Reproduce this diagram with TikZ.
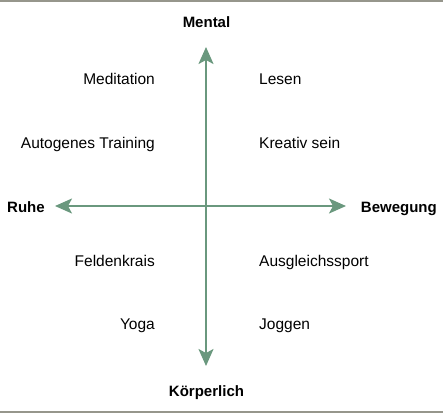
\documentclass[tikz,border=0pt]{standalone}
\usepackage{fontspec}
\setmainfont{Liberation Sans}
\usetikzlibrary{arrows.meta}
\definecolor{axisgreen}{RGB}{106,152,126}
\definecolor{rulegray}{RGB}{150,150,140}
\begin{document}
\begin{tikzpicture}[x=1pt,y=-1pt,
  axis/.style={draw=axisgreen,line width=2pt,
    arrows={Stealth[length=17pt,width=15pt,inset=4pt]-Stealth[length=17pt,width=15pt,inset=4pt]}},
  item/.style={inner sep=0pt,font=\fontsize{15.5}{18}\selectfont},
  pole/.style={inner sep=0pt,font=\fontsize{15}{18}\selectfont\bfseries},
  rule/.style={draw=rulegray,line width=1.6pt}]
\useasboundingbox (0,0) rectangle (443,413);
\coordinate (tl) at (0,0.8);
\coordinate (tr) at (443,0.8);
\coordinate (bl) at (0,412.2);
\coordinate (br) at (443,412.2);
\draw[rule] (tl) -- (tr);
\draw[rule] (bl) -- (br);
\coordinate (n) at (206,47);
\coordinate (s) at (206,366);
\coordinate (w) at (55,206);
\coordinate (e) at (346,206);
\draw[axis] (n) -- (s);
\draw[axis] (w) -- (e);
\node[pole,anchor=base] (mental) at (206.5,27.3) {Mental};
\node[pole,anchor=base] (koerper) at (206.5,396.7) {Körperlich};
\node[pole,anchor=base west] (ruhe) at (7,212.3) {Ruhe};
\node[pole,anchor=base east] (beweg) at (437,212.3) {Bewegung};
\node[item,anchor=base east] (medit) at (155,84) {Meditation};
\node[item,anchor=base east] (autog) at (155,148.5) {Autogenes Training};
\node[item,anchor=base east] (felden) at (155,266.7) {Feldenkrais};
\node[item,anchor=base east] (yoga) at (155,329) {Yoga};
\node[item,anchor=base west] (lesen) at (259,84) {Lesen};
\node[item,anchor=base west] (kreativ) at (259,148.5) {Kreativ sein};
\node[item,anchor=base west] (ausgl) at (259,266.7) {Ausgleichssport};
\node[item,anchor=base west] (joggen) at (259,329) {Joggen};
\end{tikzpicture}
\end{document}
